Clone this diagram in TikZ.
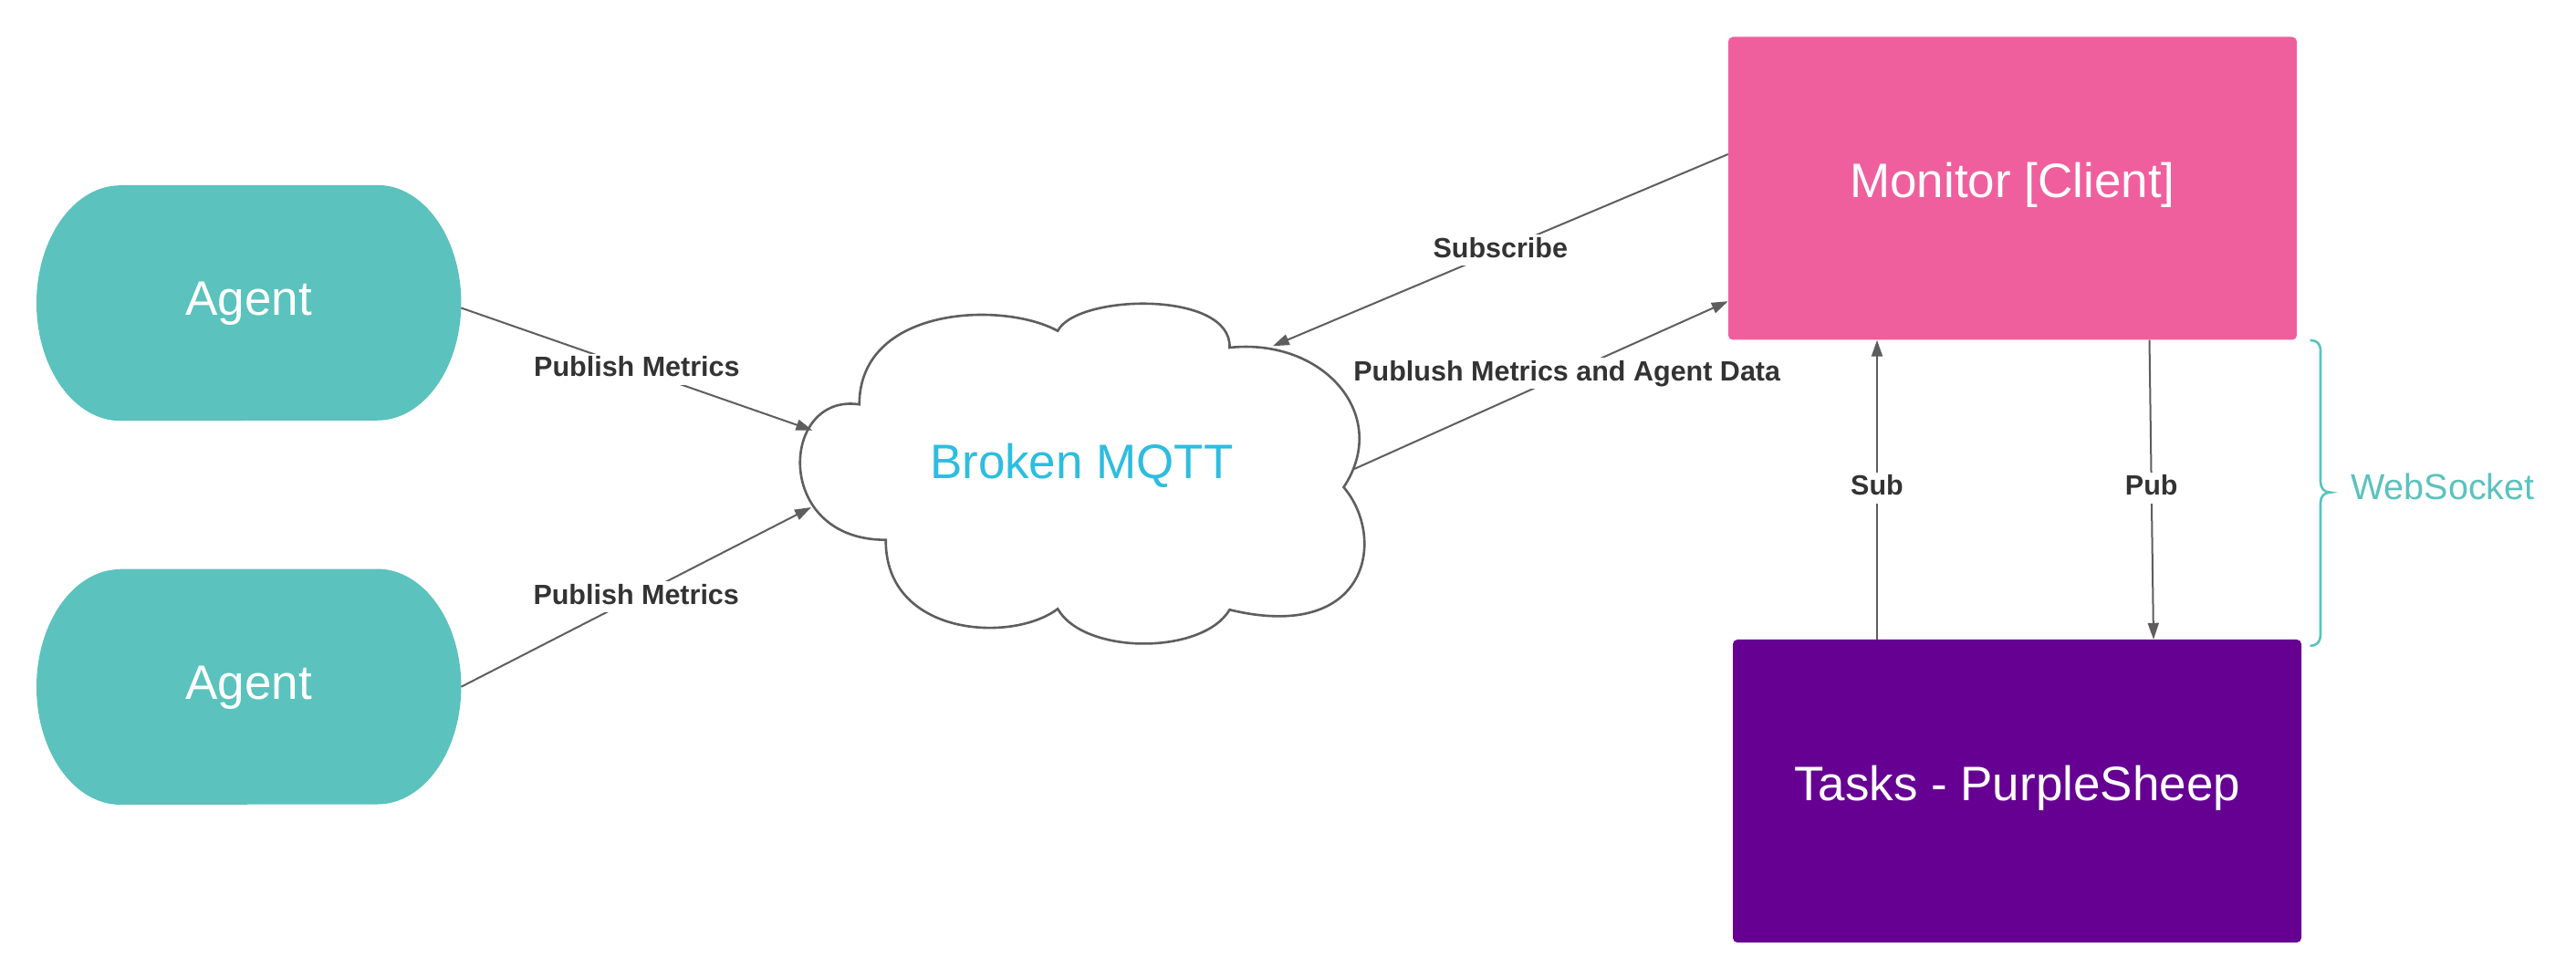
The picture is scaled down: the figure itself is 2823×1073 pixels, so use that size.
\documentclass[tikz,border=0pt]{standalone}
\usepackage{fontspec}
\setmainfont{Liberation Sans}
\usetikzlibrary{arrows.meta,backgrounds}
\definecolor{agentc}{HTML}{5BC2BD}
\definecolor{monc}{HTML}{EF5F9D}
\definecolor{taskc}{HTML}{660092}
\definecolor{mqttc}{HTML}{2DBDE0}
\definecolor{linec}{HTML}{5E5E5E}
\definecolor{lblc}{HTML}{333333}
\begin{document}
\begin{tikzpicture}[x=1pt,y=1pt,
  conn/.style={draw=linec, line width=2pt, -{Triangle[length=18pt,width=12pt]}},
  lbl/.style={fill=white, text=lblc, font=\fontsize{30.5}{36}\selectfont\bfseries, inner sep=3pt, text height=22pt, text depth=6pt},
  bigtxt/.style={font=\fontsize{53}{60}\selectfont},
  bigbox/.style={rectangle, rounded corners=5pt, minimum width=623pt, minimum height=332pt, inner sep=0pt, text=white, bigtxt, text height=38pt, text depth=17pt},
  agentbox/.style={rectangle, minimum width=465pt, minimum height=258pt, inner sep=0pt, text=white, bigtxt, text height=38pt, text depth=11pt},
]
\useasboundingbox (0,0) rectangle (2823,1073);

% Agents
\node[agentbox] (a1) at (272.7,741) {Agent};
\node[agentbox] (a2) at (272.7,320.25) {Agent};

\begin{scope}[on background layer]
  \fill[white] (0,0) rectangle (2823,1073);
  \foreach \n in {a1,a2}
    \fill[agentc] ([xshift=92pt]\n.north west) -- ([xshift=-92pt]\n.north east)
      arc[start angle=90,end angle=-90,x radius=92,y radius=129]
      -- ([xshift=92pt]\n.south west)
      arc[start angle=270,end angle=90,x radius=92,y radius=129] -- cycle;
\end{scope}

% Cloud
\filldraw[fill=white, draw=linec, line width=2.6pt]
 (941.7,629.7)
 .. controls (942,738) and (1100,743) .. (1159.1,710.3)
 .. controls (1180,751) and (1350,755) .. (1347.5,692)
 .. controls (1450,703) and (1525,618) .. (1472.5,539)
 .. controls (1520,483) and (1500,368) .. (1347.5,404.7)
 .. controls (1318,355) and (1188,355) .. (1159.1,405.7)
 .. controls (1110,368) and (970,375) .. (970.7,481.3)
 .. controls (846,481) and (855,643) .. (941.7,629.7)
 -- cycle;
\node[bigtxt, text=mqttc, anchor=base, inner sep=0pt] (mqtt) at (1185.4,548) {Broken MQTT};
\coordinate (cA) at (890.4,601.3);
\coordinate (cB) at (889,517);
\coordinate (cS) at (1394.8,693.7);
\coordinate (cP) at (1484.1,559);

% Monitor and Tasks
\node[bigbox, fill=monc] (mon) at (2205.5,866.5) {Monitor [Client]};
\node[bigbox, fill=taskc] (task) at (2210.5,206) {Tasks - PurpleSheep};

% Connectors
\draw[conn] ([yshift=-5.5pt]a1.east) -- node[lbl,pos=.5]{Publish Metrics} (cA);
\draw[conn] (a2.east) -- node[lbl,pos=.5]{Publish Metrics} (cB);
\draw[conn] ([yshift=37.5pt]mon.west) -- node[lbl,pos=.5]{Subscribe} (cS);
\draw[conn] (cP) -- node[lbl,pos=.569]{Publush Metrics and Agent Data} ([yshift=-123.7pt]mon.west);
\draw[conn] ([xshift=-153.5pt]task.north) -- node[lbl,pos=.506]{Sub} ([xshift=-148.5pt]mon.south);
\draw[conn] ([xshift=150pt]mon.south) -- node[lbl,pos=.494]{Pub} ([xshift=149.5pt]task.north);

% WebSocket brace
\draw[agentc, line width=2.6pt, line cap=round]
 (2532.4,700) .. controls (2539,700) and (2543,696) .. (2543,689)
 -- (2543,545) .. controls (2543,538) and (2547,533.3) .. (2554,533.3)
 .. controls (2547,533.3) and (2543,529) .. (2543,522)
 -- (2543,377) .. controls (2543,370) and (2539,365.2) .. (2532.4,365.2);
\node[font=\fontsize{39.5}{45}\selectfont, text=agentc, anchor=base west, inner sep=0pt] (ws) at (2576,525) {WebSocket};
\end{tikzpicture}
\end{document}
